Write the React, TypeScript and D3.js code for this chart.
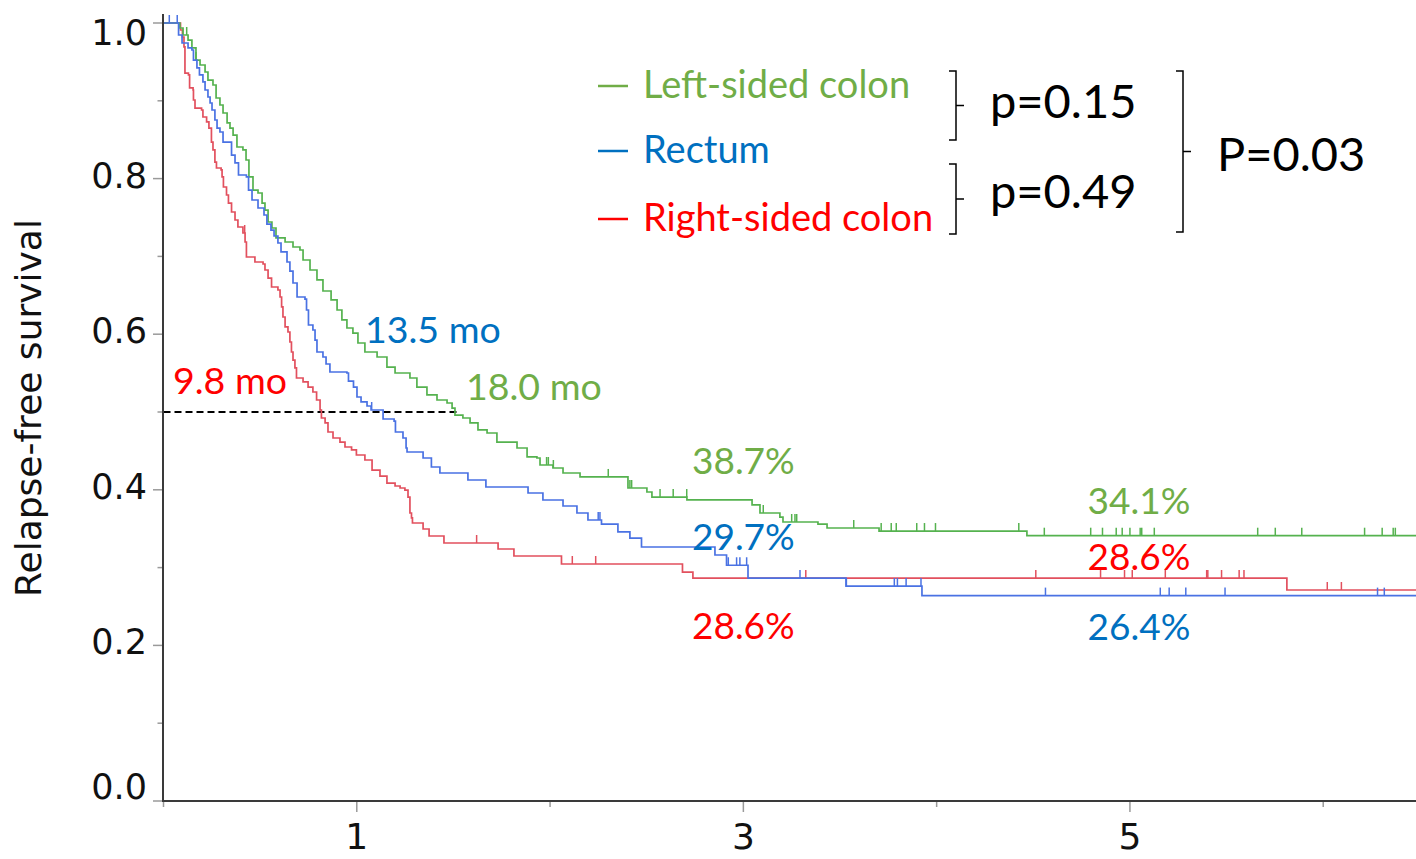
import * as d3 from 'd3';

// Kaplan-Meier: [time in years, survival after the step]
const LEFT_STEPS: [number, number][] = [
  [0.085, 0.9936], [0.101, 0.9846], [0.127, 0.9781], [0.147, 0.9679], [0.168, 0.9524],
  [0.189, 0.946], [0.215, 0.937], [0.230, 0.9267], [0.256, 0.9203], [0.272, 0.9036],
  [0.292, 0.8946], [0.308, 0.8843], [0.329, 0.8715], [0.344, 0.865], [0.360, 0.856],
  [0.380, 0.8406], [0.411, 0.8368], [0.427, 0.8239], [0.442, 0.8021], [0.463, 0.7853],
  [0.489, 0.7815], [0.510, 0.7686], [0.525, 0.7596], [0.541, 0.7442], [0.561, 0.7365],
  [0.582, 0.7237], [0.629, 0.7185], [0.670, 0.7121], [0.706, 0.7082], [0.722, 0.6954],
  [0.758, 0.6825], [0.794, 0.6697], [0.825, 0.6555], [0.867, 0.644], [0.898, 0.6311],
  [0.923, 0.6183], [0.949, 0.608], [0.980, 0.6015], [1.006, 0.5887], [1.042, 0.5771],
  [1.105, 0.5707], [1.156, 0.5578], [1.198, 0.5501], [1.275, 0.5437], [1.311, 0.5321],
  [1.363, 0.5219], [1.415, 0.5154], [1.467, 0.5116], [1.493, 0.5051], [1.508, 0.4961],
  [1.549, 0.4923], [1.586, 0.4859], [1.627, 0.4769], [1.674, 0.473], [1.725, 0.4614],
  [1.829, 0.4537], [1.881, 0.4422], [1.932, 0.4409], [1.948, 0.4319], [2.015, 0.428],
  [2.067, 0.4216], [2.155, 0.4165], [2.403, 0.4023], [2.501, 0.3972], [2.527, 0.3907],
  [2.708, 0.387], [3.045, 0.3805], [3.086, 0.3702], [3.189, 0.365], [3.205, 0.3586],
  [3.386, 0.356], [3.433, 0.3509], [3.702, 0.347], [4.467, 0.341],
];
const LEFT_CENSORED = [
  0.120, 0.168, 1.982, 1.991, 2.017, 2.301, 2.413, 2.422, 2.569, 2.637, 2.707, 3.103,
  3.250, 3.267, 3.276, 3.571, 3.713, 3.765, 3.791, 3.897, 3.937, 3.994, 4.425, 4.557,
  4.797, 4.858, 4.929, 4.960, 5.000, 5.053, 5.061, 5.126, 5.661, 5.752, 5.889, 6.214,
  6.305, 6.362, 6.373,
];

const RECTUM_STEPS: [number, number][] = [
  [0.078, 0.9846], [0.096, 0.9743], [0.127, 0.9679], [0.147, 0.9653], [0.155, 0.9524],
  [0.173, 0.9422], [0.186, 0.9332], [0.204, 0.9242], [0.215, 0.9139], [0.230, 0.9049],
  [0.241, 0.8972], [0.251, 0.8882], [0.266, 0.8753], [0.277, 0.865], [0.292, 0.8599],
  [0.308, 0.847], [0.352, 0.8303], [0.370, 0.8201], [0.388, 0.8046], [0.429, 0.8021],
  [0.440, 0.7853], [0.458, 0.7725], [0.489, 0.7622], [0.520, 0.7532], [0.535, 0.7416],
  [0.556, 0.7339], [0.572, 0.7262], [0.592, 0.7172], [0.608, 0.7057], [0.639, 0.6928],
  [0.654, 0.6812], [0.670, 0.6658], [0.691, 0.6478], [0.732, 0.6452], [0.740, 0.6311],
  [0.750, 0.6118], [0.773, 0.6054], [0.784, 0.5925], [0.794, 0.5771], [0.825, 0.5707],
  [0.841, 0.5617], [0.861, 0.5514], [0.949, 0.5501], [0.957, 0.5398], [0.983, 0.5321],
  [1.001, 0.5193], [1.022, 0.5129], [1.053, 0.5077], [1.074, 0.5026], [1.136, 0.491],
  [1.193, 0.4884], [1.200, 0.4743], [1.239, 0.4666], [1.255, 0.4537], [1.260, 0.4486],
  [1.343, 0.4409], [1.386, 0.4293], [1.430, 0.4216], [1.575, 0.4126], [1.668, 0.4036],
  [1.886, 0.3959], [1.963, 0.3869], [2.067, 0.3792], [2.139, 0.3702], [2.196, 0.3612],
  [2.266, 0.356], [2.351, 0.3458], [2.413, 0.338], [2.473, 0.3265], [2.853, 0.3162],
  [2.913, 0.303], [3.024, 0.2866], [3.531, 0.2763], [3.924, 0.264],
];
const RECTUM_CENSORED = [
  0.030, 0.071, 1.077, 2.249, 2.258, 2.922, 2.965, 2.982, 3.017, 3.293, 3.533, 3.781,
  3.797, 3.842, 3.919, 4.563, 5.157, 5.203, 5.289, 5.492, 6.281, 6.316,
];

const RIGHT_STEPS: [number, number][] = [
  [0.088, 0.991], [0.098, 0.982], [0.106, 0.9692], [0.111, 0.9357], [0.129, 0.9332],
  [0.135, 0.9165], [0.153, 0.9139], [0.155, 0.901], [0.163, 0.8907], [0.197, 0.8882],
  [0.204, 0.8792], [0.223, 0.8728], [0.235, 0.865], [0.248, 0.847], [0.256, 0.8368],
  [0.266, 0.8213], [0.274, 0.8136], [0.298, 0.8111], [0.303, 0.8021], [0.310, 0.7892],
  [0.326, 0.7789], [0.336, 0.7686], [0.352, 0.7571], [0.370, 0.7468], [0.385, 0.7378],
  [0.411, 0.7301], [0.422, 0.7185], [0.429, 0.6992], [0.473, 0.6928], [0.515, 0.6902],
  [0.525, 0.6825], [0.541, 0.6722], [0.559, 0.6607], [0.592, 0.6568], [0.603, 0.6478],
  [0.611, 0.635], [0.618, 0.6221], [0.629, 0.6093], [0.644, 0.6028], [0.654, 0.59],
  [0.662, 0.5771], [0.670, 0.5668], [0.680, 0.5566], [0.688, 0.5437], [0.722, 0.5386],
  [0.748, 0.5321], [0.773, 0.5257], [0.792, 0.5154], [0.810, 0.5026], [0.817, 0.4923],
  [0.836, 0.4859], [0.851, 0.4743], [0.877, 0.4666], [0.913, 0.4614], [0.939, 0.455],
  [0.973, 0.4512], [0.998, 0.4447], [1.042, 0.4383], [1.079, 0.4254], [1.120, 0.4177],
  [1.156, 0.4087], [1.198, 0.4049], [1.224, 0.4023], [1.249, 0.3997], [1.265, 0.3907],
  [1.275, 0.3702], [1.283, 0.3638], [1.288, 0.3573], [1.343, 0.3496], [1.374, 0.3406],
  [1.451, 0.3316], [1.731, 0.3239], [1.813, 0.3149], [2.059, 0.3046], [2.685, 0.2943],
  [2.739, 0.2866], [5.812, 0.2712],
];
const RIGHT_CENSORED = [
  0.420, 1.620, 2.115, 2.236, 3.323, 4.513, 4.848, 4.972, 5.012, 5.183, 5.397, 5.403,
  5.474, 5.565, 5.590, 6.021, 6.094,
];

const X_MAX = 6.48;
const X_MAJOR = [1, 3, 5];
const X_MINOR = [0, 2, 4, 6];
const Y_MAJOR = [0, 0.2, 0.4, 0.6, 0.8, 1.0];
const Y_MINOR = [0.1, 0.3, 0.5, 0.7, 0.9];

const LEGEND = ['Left-sided colon', 'Rectum', 'Right-sided colon'];
const MEDIAN_LEFT_YEARS = 1.5; // 18.0 mo
const MEDIAN_LABELS = ['18.0 mo', '13.5 mo', '9.8 mo'];
const RATE_3Y = ['38.7%', '29.7%', '28.6%'];
const RATE_5Y = ['34.1%', '26.4%', '28.6%'];
const P_PAIRS = ['p=0.15', 'p=0.49'];
const P_OVERALL = 'P=0.03';

const LINE_COLORS = ['#55b24f', '#4a72e3', '#e2505e'];
const TEXT_COLORS = ['#70ad47', '#0070c0', '#ff0000'];

const series = [
  { steps: LEFT_STEPS, censored: LEFT_CENSORED },
  { steps: RECTUM_STEPS, censored: RECTUM_CENSORED },
  { steps: RIGHT_STEPS, censored: RIGHT_CENSORED },
];

function survivalAt(steps: [number, number][], t: number) {
  let s = 1;
  for (const [st, sv] of steps) {
    if (st <= t) s = sv;
    else break;
  }
  return s;
}

const LABEL_FONT = 'Lato, "Noto Sans", sans-serif';
const AXIS_FONT = '"DejaVu Sans", Verdana, sans-serif';

export default function App() {
  const x = d3.scaleLinear().domain([0, X_MAX]).range([163.5, 1416]);
  const y = d3.scaleLinear().domain([0, 1]).range([801, 23]);

  const line = d3
    .line<[number, number]>()
    .x(d => x(d[0]))
    .y(d => y(d[1]))
    .curve(d3.curveStepAfter);

  const pathFor = (steps: [number, number][]) => {
    const pts: [number, number][] = [[0, 1], ...steps];
    pts.push([X_MAX, steps[steps.length - 1][1]]);
    return line(pts) || '';
  };

  // draw order: right-sided, left-sided, rectum (blue on top)
  const order = [2, 0, 1];

  const legendY = [86, 151, 219];
  const bracket = (top: number, bottom: number, xv: number, w: number, nub: number) =>
    `M${xv - w},${top} H${xv} V${bottom} H${xv - w} M${xv},${(top + bottom) / 2} H${xv + nub}`;

  return (
    <svg
      width={1416}
      height={859}
      viewBox="0 0 1416 859"
      style={{ position: 'absolute', left: 0, top: 0, background: '#fff' }}
    >
      <defs>
        <clipPath id="plot">
          <rect x={163} y={0} width={1416 - 163} height={802} />
        </clipPath>
      </defs>

      {/* Y axis */}
      {Y_MAJOR.map(v => (
        <line key={'ym' + v} x1={153} x2={163} y1={y(v)} y2={y(v)} stroke="#9a9a9a" strokeWidth={1.5} />
      ))}
      {Y_MINOR.map(v => (
        <line key={'yn' + v} x1={157.5} x2={163} y1={y(v)} y2={y(v)} stroke="#9a9a9a" strokeWidth={1.5} />
      ))}
      {Y_MAJOR.map(v => (
        <text
          key={'yl' + v}
          x={147}
          y={Math.min(799, Math.max(45, y(v) + 9))}
          textAnchor="end"
          fontFamily={AXIS_FONT}
          fontSize={35}
          fill="#111"
        >
          {v.toFixed(1)}
        </text>
      ))}
      <text
        transform="translate(41,408) rotate(-90)"
        textAnchor="middle"
        fontFamily={AXIS_FONT}
        fontSize={36}
        fill="#111"
      >
        Relapse-free survival
      </text>

      {/* X axis */}
      {X_MAJOR.map(v => (
        <line key={'xm' + v} x1={x(v)} x2={x(v)} y1={801} y2={812} stroke="#9a9a9a" strokeWidth={1.5} />
      ))}
      {X_MINOR.map(v => (
        <line key={'xn' + v} x1={x(v)} x2={x(v)} y1={801} y2={807} stroke="#9a9a9a" strokeWidth={1.5} />
      ))}
      {X_MAJOR.map(v => (
        <text key={'xl' + v} x={x(v)} y={849} textAnchor="middle" fontFamily={AXIS_FONT} fontSize={36} fill="#111">
          {v}
        </text>
      ))}

      {/* median reference */}
      <line
        x1={x(0)}
        x2={x(MEDIAN_LEFT_YEARS) + 4}
        y1={y(0.5)}
        y2={y(0.5)}
        stroke="#000"
        strokeWidth={2}
        strokeDasharray="7,4"
      />

      {/* curves */}
      <g clipPath="url(#plot)">
        {order.map(i => (
          <g key={'s' + i}>
            <path d={pathFor(series[i].steps)} fill="none" stroke={LINE_COLORS[i]} strokeWidth={1.7} />
            {series[i].censored.map((t, k) => {
              const cy = y(survivalAt(series[i].steps, t));
              return (
                <line
                  key={k}
                  x1={x(t)}
                  x2={x(t)}
                  y1={cy}
                  y2={cy - 8}
                  stroke={LINE_COLORS[i]}
                  strokeWidth={1.5}
                />
              );
            })}
          </g>
        ))}
      </g>

      {/* axis lines on top */}
      <line x1={163} x2={163} y1={14} y2={802} stroke="#3a3a3a" strokeWidth={2} />
      <line x1={162} x2={1416} y1={801} y2={801} stroke="#3a3a3a" strokeWidth={2.2} />

      {/* legend */}
      {LEGEND.map((name, i) => (
        <g key={'lg' + i}>
          <line x1={598} x2={628} y1={legendY[i]} y2={legendY[i]} stroke={TEXT_COLORS[i]} strokeWidth={2.5} />
          <text x={643} y={legendY[i] + 12} fontFamily={LABEL_FONT} fontSize={38} fill={TEXT_COLORS[i]}>
            {name}
          </text>
        </g>
      ))}

      {/* brackets and p-values */}
      <path d={bracket(71, 140, 956, 7, 8)} fill="none" stroke="#000" strokeWidth={1.5} />
      <path d={bracket(164, 234, 956, 7, 8)} fill="none" stroke="#000" strokeWidth={1.5} />
      <path d={bracket(71, 232, 1183, 7, 8)} fill="none" stroke="#000" strokeWidth={1.5} />
      <text x={990} y={118} fontFamily={LABEL_FONT} fontSize={47} fill="#000">{P_PAIRS[0]}</text>
      <text x={990} y={208} fontFamily={LABEL_FONT} fontSize={47} fill="#000">{P_PAIRS[1]}</text>
      <text x={1217} y={171} fontFamily={LABEL_FONT} fontSize={47} fill="#000">{P_OVERALL}</text>

      {/* medians */}
      <text x={466} y={400} fontFamily={LABEL_FONT} fontSize={37.5} fill={TEXT_COLORS[0]}>{MEDIAN_LABELS[0]}</text>
      <text x={365} y={343} fontFamily={LABEL_FONT} fontSize={37.5} fill={TEXT_COLORS[1]}>{MEDIAN_LABELS[1]}</text>
      <text x={173} y={394} fontFamily={LABEL_FONT} fontSize={37.5} fill={TEXT_COLORS[2]}>{MEDIAN_LABELS[2]}</text>

      {/* 3- and 5-year rates */}
      {[474, 550, 639].map((ty, i) => (
        <text key={'r3' + i} x={x(3)} y={ty} textAnchor="middle" fontFamily={LABEL_FONT} fontSize={37} fill={TEXT_COLORS[i]}>
          {RATE_3Y[i]}
        </text>
      ))}
      {[514, 640, 570].map((ty, i) => (
        <text key={'r5' + i} x={x(5) + 9} y={ty} textAnchor="middle" fontFamily={LABEL_FONT} fontSize={37} fill={TEXT_COLORS[i]}>
          {RATE_5Y[i]}
        </text>
      ))}
    </svg>
  );
}
